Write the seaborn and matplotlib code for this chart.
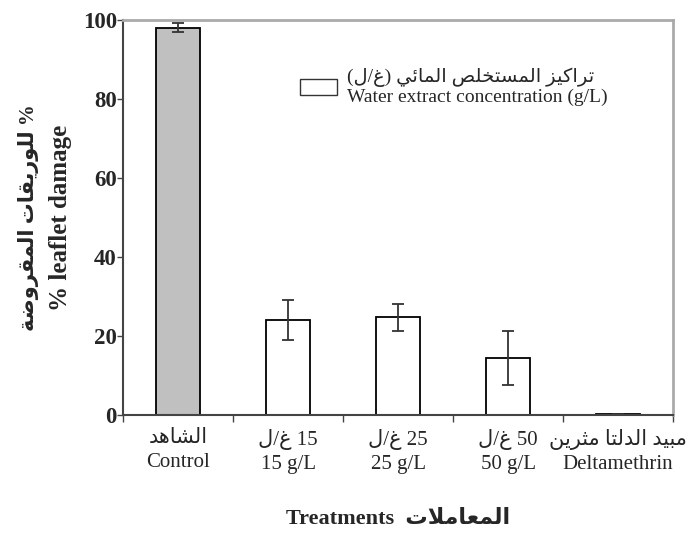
import re

import numpy as np
import pandas as pd
import seaborn as sns
from matplotlib import pyplot as plt
from matplotlib.patches import Rectangle
from matplotlib.ticker import FixedLocator

# values
treatments_en = ["Control", "15 g/L", "25 g/L", "50 g/L", "Deltamethrin"]
treatments_ar = ["الشاهد", "15 غ/ل", "25 غ/ل", "50 غ/ل", "مبيد الدلتا مثرين"]
damage_mean = [98.1, 24.1, 24.7, 14.5, 0.2]
damage_err = [1.2, 5.0, 3.4, 6.8, 0.1]
y_ticks = [0, 20, 40, 60, 80, 100]

ylabel_ar = "% للوريقات المقروضة"
ylabel_en = "% leaflet damage"
xlabel_ar = "المعاملات"
xlabel_en = "Treatments"
legend_ar = "تراكيز المستخلص المائي (غ/ل)"
legend_en = "Water extract concentration (g/L)"

# presentation forms (isolated code point); dual joining letters have 4 forms
DUAL = {"ب": 0xFE8F, "ت": 0xFE95, "ث": 0xFE99, "خ": 0xFEA5, "س": 0xFEB1,
        "ش": 0xFEB5, "ص": 0xFEB9, "ض": 0xFEBD, "ع": 0xFEC9, "غ": 0xFECD,
        "ق": 0xFED5, "ك": 0xFED9, "ل": 0xFEDD, "م": 0xFEE1, "ن": 0xFEE5,
        "ه": 0xFEE9, "ي": 0xFEF1, "ئ": 0xFE89}
RIGHT = {"ا": 0xFE8D, "ة": 0xFE93, "د": 0xFEA9, "ر": 0xFEAD, "ز": 0xFEAF,
         "و": 0xFEED}
MIRROR = {"(": ")", ")": "("}


def shape_word(word: str) -> str:
    """
    Join the letters of one arabic word (logical order)
    :param word: arabic letters only
    :return: presentation forms, still in logical order
    """
    out = []
    i = 0
    prev_joins = False
    while i < len(word):
        c = word[i]
        if c == "ل" and i + 1 < len(word) and word[i + 1] == "ا":
            out.append(chr(0xFEFC if prev_joins else 0xFEFB))
            prev_joins = False
            i += 2
            continue
        nxt = word[i + 1] if i + 1 < len(word) else None
        if c in RIGHT:
            out.append(chr(RIGHT[c] + (1 if prev_joins else 0)))
            prev_joins = False
        elif c in DUAL:
            next_joins = nxt is not None and (nxt in DUAL or nxt in RIGHT)
            if prev_joins and next_joins:
                off = 3
            elif prev_joins:
                off = 1
            elif next_joins:
                off = 2
            else:
                off = 0
            out.append(chr(DUAL[c] + off))
            prev_joins = next_joins
        else:
            out.append(c)
            prev_joins = False
        i += 1
    return "".join(out)


def ar(text: str) -> str:
    """
    Very small bidi + shaping for a right to left line
    :param text: arabic text in logical order
    :return: text in visual order, ready for matplotlib
    """
    tokens = re.findall(r"[\u0600-\u06FF]+|[0-9A-Za-z]+|.", text)
    vis = []
    for t in reversed(tokens):
        if re.match(r"[\u0600-\u06FF]", t):
            vis.append(shape_word(t)[::-1])
        else:
            vis.append(MIRROR.get(t, t))
    return "".join(vis)


def plot_fig(fig_location: str = "out.png"):
    """
    Bar chart of leaflet damage per treatment
    :param fig_location: output file
    :return: None
    """
    sns.set_theme(style="white")
    plt.rcParams["font.family"] = ["Liberation Serif", "DejaVu Sans"]

    df = pd.DataFrame({"treatment": treatments_en,
                       "damage": damage_mean,
                       "err": damage_err})
    palette = ["#c0c0c0"] + ["white"] * (len(treatments_en) - 1)

    fig = plt.figure(figsize=(6.88, 5.41), dpi=100)
    ax = fig.add_axes([0.1788, 0.2329, 0.7994, 0.7301])

    sns.barplot(data=df, x="treatment", y="damage", hue="treatment",
                palette=palette, order=treatments_en, width=0.4,
                edgecolor="black", linewidth=1.3, errorbar=None,
                legend=False, ax=ax)
    xs = np.arange(len(df))
    ax.errorbar(xs, df["damage"], yerr=df["err"], fmt="none",
                ecolor="#333333", elinewidth=1.3, capsize=4, capthick=1.3)

    ax.set_xlim(-0.5, len(df) - 0.5)
    ax.set_ylim(0, 100)
    ax.set_yticks(y_ticks)
    ax.set_yticklabels([str(v) for v in y_ticks], fontsize=16.5,
                       fontweight="bold")
    ax.set_xticks(xs)
    ax.set_xticklabels([ar(a) + "\n" + e
                        for a, e in zip(treatments_ar, treatments_en)],
                       fontsize=15, linespacing=1.35)
    ax.xaxis.set_minor_locator(FixedLocator(np.arange(len(df) + 1) - 0.5))
    ax.tick_params(axis="x", which="major", length=0, pad=10)
    ax.tick_params(axis="x", which="minor", length=5, width=1,
                   color="#444444", direction="out", bottom=True)
    ax.tick_params(axis="y", length=4, width=1, color="#444444",
                   direction="out", left=True, pad=0.5)

    for s in ["top", "right"]:
        ax.spines[s].set_color("#aaaaaa")
        ax.spines[s].set_linewidth(2)
    for s in ["left", "bottom"]:
        ax.spines[s].set_color("#444444")
        ax.spines[s].set_linewidth(1.5)

    # english line as the axis label, arabic line placed further left
    ax.set_ylabel(ylabel_en, fontsize=18, fontweight="bold", labelpad=8)
    ax.text(-0.172, 0.5, ar(ylabel_ar), transform=ax.transAxes,
            rotation=90, ha="center", va="center", fontsize=15,
            fontweight="bold")
    ax.set_xlabel(xlabel_en + "  " + ar(xlabel_ar), fontsize=16,
                  fontweight="bold", labelpad=25)

    handle = Rectangle((0, 0), 1, 1, facecolor="white", edgecolor="#333333",
                       linewidth=1)
    ax.legend([handle], [ar(legend_ar) + "\n" + legend_en],
              loc="upper left", bbox_to_anchor=(0.29, 0.925), frameon=False,
              prop={"size": 14}, handlelength=1.9, handleheight=0.9,
              handletextpad=0.5, labelspacing=0)

    fig.savefig(fig_location, dpi=100)


if __name__ == "__main__":
    plot_fig("out.png")
